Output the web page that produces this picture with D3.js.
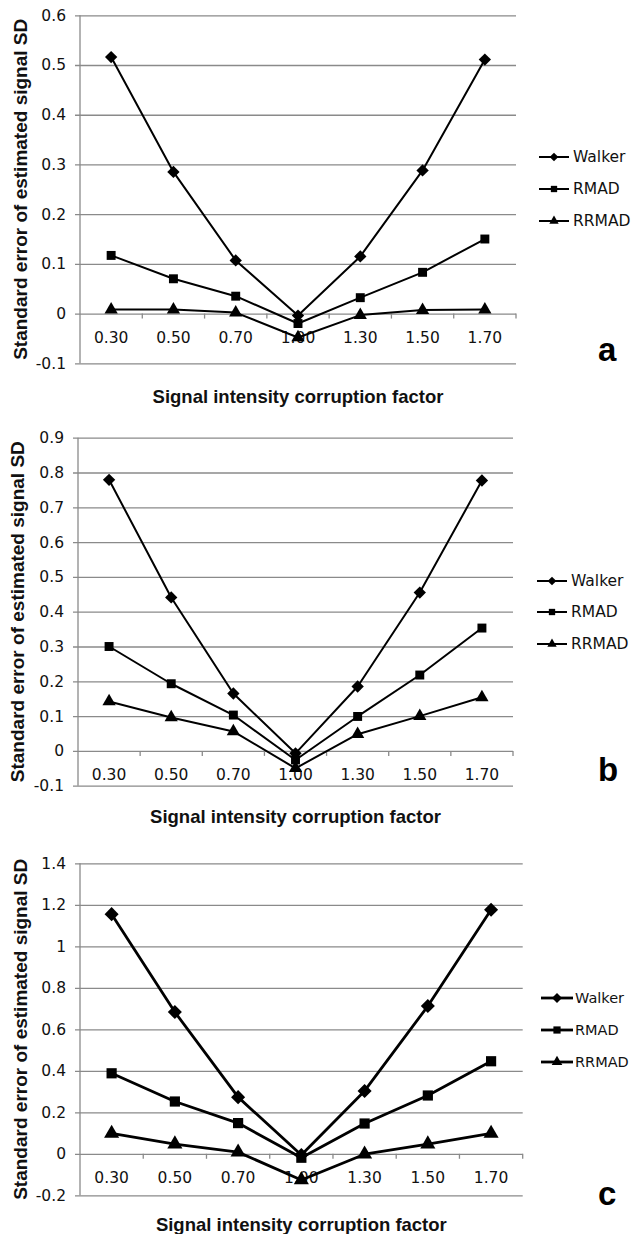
<!DOCTYPE html>
<html>
<head>
<meta charset="utf-8">
<script src="https://cdn.jsdelivr.net/npm/d3@7"></script>
<style>
  html, body { margin: 0; padding: 0; background: #fff; }
  svg { display: block; }
</style>
</head>
<body>
<svg id="chart" width="631" height="1234"></svg>
<script>
// ---------- data ----------
const categories = ["0.30", "0.50", "0.70", "1.00", "1.30", "1.50", "1.70"];
const seriesNames = ["Walker", "RMAD", "RRMAD"];

const walkerA = [0.516, 0.285, 0.107, -0.004, 0.115, 0.288, 0.511];
const rmadA   = [0.117, 0.070, 0.035, -0.020, 0.032, 0.083, 0.150];
const rrmadA  = [0.008, 0.008, 0.002, -0.048, -0.003, 0.007, 0.008];

const walkerB = [0.779, 0.441, 0.165, -0.007, 0.185, 0.455, 0.777];
const rmadB   = [0.300, 0.193, 0.103, -0.026, 0.099, 0.218, 0.353];
const rrmadB  = [0.142, 0.096, 0.056, -0.050, 0.048, 0.100, 0.154];

const walkerC = [1.155, 0.683, 0.273, -0.006, 0.303, 0.712, 1.176];
const rmadC   = [0.388, 0.252, 0.148, -0.019, 0.146, 0.281, 0.446];
const rrmadC  = [0.098, 0.047, 0.008, -0.126, -0.002, 0.047, 0.098];

const yTicksA = [-0.1, 0, 0.1, 0.2, 0.3, 0.4, 0.5, 0.6];
const yTicksB = [-0.1, 0, 0.1, 0.2, 0.3, 0.4, 0.5, 0.6, 0.7, 0.8, 0.9];
const yTicksC = [-0.2, 0, 0.2, 0.4, 0.6, 0.8, 1, 1.2, 1.4];

const panelLabels = ["a", "b", "c"];
const xTitle = "Signal intensity corruption factor";
const yTitle = "Standard error of estimated signal SD";

// ---------- layout ----------
const layouts = [
  { left: 80, right: 516, top: 15.3, bottom: 363.3, lw: 2, yTitleX: 20, xTitleY: 396,
    labelX: 598, labelY: 361, legX1: 539, legX2: 569, legTextX: 573, legY: [157, 189, 221], legFont: 15.5 },
  { left: 78, right: 513, top: 437.7, bottom: 785.7, lw: 2, yTitleX: 17, xTitleY: 816,
    labelX: 598, labelY: 781, legX1: 537, legX2: 567, legTextX: 571, legY: [581, 612, 644], legFont: 15.5 },
  { left: 80, right: 522.7, top: 863.3, bottom: 1195.3, lw: 2.8, yTitleX: 20, xTitleY: 1224,
    labelX: 598, labelY: 1205, legX1: 541, legX2: 573, legTextX: 575, legY: [998, 1030, 1062], legFont: 14.5 }
];

const panels = [
  { series: [walkerA, rmadA, rrmadA], ticks: yTicksA },
  { series: [walkerB, rmadB, rrmadB], ticks: yTicksB },
  { series: [walkerC, rmadC, rrmadC], ticks: yTicksC }
];

const svg = d3.select("#chart");
const gridColor = "#8a8a8a";
const tickFont = "'DejaVu Sans', Verdana, sans-serif";
const titleFont = "'Liberation Sans', Arial, sans-serif";
const tickSize = "15.5px";

function markerPath(kind, scale) {
  if (kind === 0) return d3.symbol().type(d3.symbolSquare).size(76 * scale)();
  if (kind === 1) return d3.symbol().type(d3.symbolSquare).size(80 * scale)();
  return d3.symbol().type(d3.symbolTriangle).size(76 * scale)();
}

panels.forEach((p, pi) => {
  const L = layouts[pi];
  const big = pi === 2 ? 1.3 : 1;
  const g = svg.append("g");

  const x = d3.scaleBand().domain(categories).range([L.left, L.right]).padding(0);
  const y = d3.scaleLinear()
    .domain([d3.min(p.ticks), d3.max(p.ticks)])
    .range([L.bottom, L.top]);

  // gridlines via axis
  const yAxis = d3.axisLeft(y).tickValues(p.ticks)
    .tickSize(-(L.right - L.left))
    .tickFormat(d => String(+d.toFixed(1)));
  const ya = g.append("g").attr("transform", `translate(${L.left},0)`).call(yAxis);
  ya.attr("font-size", null).attr("font-family", null);
  ya.select(".domain").remove();
  ya.selectAll(".tick line").attr("stroke", gridColor).attr("stroke-width", 1.3)
    .attr("x1", -5);
  ya.selectAll(".tick text")
    .attr("x", -14)
    .attr("fill", "#111")
    .style("font-family", tickFont)
    .style("font-size", tickSize);

  // vertical axis line
  g.append("line")
    .attr("x1", L.left).attr("x2", L.left)
    .attr("y1", y(d3.max(p.ticks))).attr("y2", y(d3.min(p.ticks)))
    .attr("stroke", gridColor).attr("stroke-width", 1.3);

  // category ticks on zero line
  const y0 = y(0);
  g.selectAll(".ctick").data(categories).enter().append("line")
    .attr("x1", d => x(d) + x.bandwidth()).attr("x2", d => x(d) + x.bandwidth())
    .attr("y1", y0).attr("y2", y0 + 5)
    .attr("stroke", gridColor).attr("stroke-width", 1.3);

  // category labels
  g.selectAll(".clab").data(categories).enter().append("text")
    .attr("x", d => x(d) + x.bandwidth() / 2)
    .attr("y", y0 + 24)
    .attr("text-anchor", "middle")
    .attr("dominant-baseline", "central")
    .attr("fill", "#111")
    .style("font-family", tickFont)
    .style("font-size", tickSize)
    .text(d => d);

  // series lines and markers
  const line = d3.line()
    .x((d, i) => x(categories[i]) + x.bandwidth() / 2)
    .y(d => y(d));

  p.series.forEach((vals, si) => {
    g.append("path")
      .datum(vals)
      .attr("d", line)
      .attr("fill", "none")
      .attr("stroke", "#000")
      .attr("stroke-width", L.lw)
      .attr("stroke-linejoin", "round");
    g.selectAll(".m" + si).data(vals).enter().append("path")
      .attr("d", markerPath(si, big))
      .attr("transform", (d, i) => {
        const cx = x(categories[i]) + x.bandwidth() / 2;
        return `translate(${cx},${y(d)})` + (si === 0 ? " rotate(45)" : "");
      })
      .attr("fill", "#000");
  });

  // legend
  seriesNames.forEach((name, si) => {
    const ly = L.legY[si];
    g.append("line")
      .attr("x1", L.legX1).attr("x2", L.legX2)
      .attr("y1", ly).attr("y2", ly)
      .attr("stroke", "#000").attr("stroke-width", L.lw);
    g.append("path")
      .attr("d", markerPath(si, 0.5 * big))
      .attr("transform", `translate(${(L.legX1 + L.legX2) / 2},${ly})` + (si === 0 ? " rotate(45)" : ""))
      .attr("fill", "#000");
    g.append("text")
      .attr("x", L.legTextX).attr("y", ly)
      .attr("dominant-baseline", "central")
      .attr("fill", "#111")
      .style("font-family", tickFont)
      .style("font-size", L.legFont + "px")
      .text(name);
  });

  // axis titles
  g.append("text")
    .attr("x", (L.left + L.right) / 2).attr("y", L.xTitleY)
    .attr("text-anchor", "middle")
    .attr("dominant-baseline", "central")
    .style("font-family", titleFont)
    .style("font-weight", "bold")
    .style("font-size", "18.5px")
    .attr("fill", "#111")
    .text(xTitle);

  g.append("text")
    .attr("transform", `translate(${L.yTitleX},${(L.top + L.bottom) / 2}) rotate(-90)`)
    .attr("text-anchor", "middle")
    .attr("dominant-baseline", "central")
    .style("font-family", titleFont)
    .style("font-weight", "bold")
    .style("font-size", "19px")
    .attr("fill", "#111")
    .text(yTitle);

  // panel label
  g.append("text")
    .attr("x", L.labelX).attr("y", L.labelY)
    .style("font-family", titleFont)
    .style("font-weight", "bold")
    .style("font-size", "33px")
    .attr("fill", "#000")
    .text(panelLabels[pi]);
});
</script>
</body>
</html>
